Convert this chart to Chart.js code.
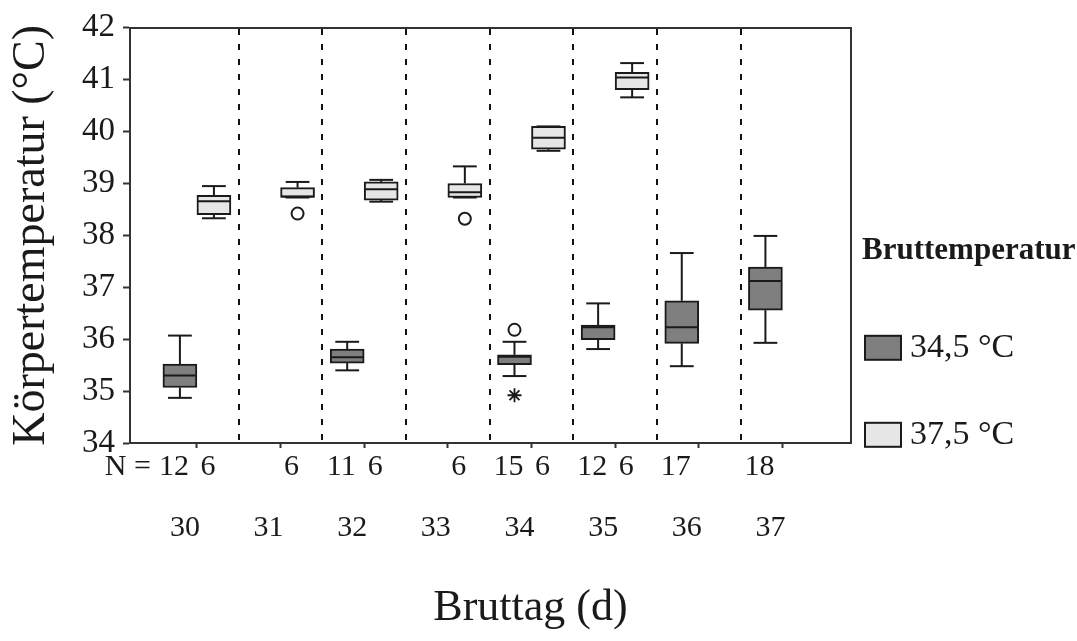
<!DOCTYPE html>
<html>
<head>
<meta charset="utf-8">
<title>Körpertemperatur nach Bruttag</title>
<script src="https://cdn.jsdelivr.net/npm/chart.js@4/dist/chart.umd.min.js"></script>
<style>
  html, body { margin: 0; padding: 0; background: #ffffff; }
  #wrap { width: 1077px; height: 641px; position: relative; }
</style>
</head>
<body>
<div id="wrap"><canvas id="chart"></canvas></div>
<script>
// Bruttag (d)
const days = [30, 31, 32, 33, 34, 35, 36, 37];

// Bruttemperatur 34,5 °C: whisker ends, quartiles, median, sample size, outliers
const low345  = [34.87, null, 35.40, null, 35.29, 35.81, 35.48, 35.93];
const q1_345  = [35.07, null, 35.54, null, 35.51, 35.99, 35.92, 36.56];
const med345  = [35.30, null, 35.65, null, 35.66, 36.23, 36.23, 37.12];
const q3_345  = [35.52, null, 35.81, null, 35.70, 36.27, 36.74, 37.39];
const high345 = [36.07, null, 35.95, null, 35.95, 36.69, 37.66, 37.99];
const n345    = [12, null, 11, null, 15, 12, 17, 18];
const out345  = [[], [], [], [], [36.18], [], [], []];
const ext345  = [[], [], [], [], [34.92], [], [], []];

// Bruttemperatur 37,5 °C
const low375  = [38.33, 38.73, 38.65, 38.73, 39.63, 40.66, null, null];
const q1_375  = [38.40, 38.73, 38.68, 38.73, 39.66, 40.81, null, null];
const med375  = [38.66, 38.75, 38.89, 38.83, 39.88, 41.04, null, null];
const q3_375  = [38.77, 38.92, 39.03, 39.00, 40.10, 41.14, null, null];
const high375 = [38.95, 39.03, 39.07, 39.33, 40.10, 41.32, null, null];
const n375    = [6, 6, 6, 6, 6, 6, null, null];
const out375  = [[], [38.42], [], [38.32], [], [], [], []];
const ext375  = [[], [], [], [], [], [], [], []];

const yTicks = [34, 35, 36, 37, 38, 39, 40, 41, 42];
const groupLabels = ['34,5 °C', '37,5 °C'];
const legendTitle = 'Bruttemperatur';

const SERIF = "'Liberation Serif', 'Times New Roman', serif";
const INK = '#1a1a1a';
const AXIS = '#333333';
const FILL = ['#7f7f7f', '#e6e6e6'];

const groups = [
  { low: low345, q1: q1_345, med: med345, q3: q3_345, high: high345, n: n345, out: out345, ext: ext345 },
  { low: low375, q1: q1_375, med: med375, q3: q3_375, high: high375, n: n375, out: out375, ext: ext375 }
];

// boxes are floating bars spanning the interquartile range
function boxData(g) {
  return days.map((d, i) => (g.q1[i] == null ? null : [g.q1[i], g.q3[i]]));
}

// whiskers, medians and outliers, placed on each box through the scales
const whiskerPlugin = {
  id: 'whiskers',
  afterDatasetsDraw(chart) {
    const ctx = chart.ctx;
    const ys = chart.scales.y;
    const line = (x1, y1, x2, y2) => { ctx.beginPath(); ctx.moveTo(x1, y1); ctx.lineTo(x2, y2); ctx.stroke(); };
    groups.forEach((g, di) => {
      const meta = chart.getDatasetMeta(di);
      meta.data.forEach((bar, i) => {
        if (g.med[i] == null) return;
        const cx = bar.x, w = bar.width, cap = w * 0.7;
        const pLow = ys.getPixelForValue(g.low[i]);
        const pQ1 = ys.getPixelForValue(g.q1[i]);
        const pMed = ys.getPixelForValue(g.med[i]);
        const pQ3 = ys.getPixelForValue(g.q3[i]);
        const pHigh = ys.getPixelForValue(g.high[i]);
        ctx.save();
        ctx.strokeStyle = INK;
        ctx.lineWidth = 2;
        ctx.lineCap = 'butt';
        line(cx, pQ3, cx, pHigh);
        line(cx - cap / 2, pHigh, cx + cap / 2, pHigh);
        line(cx, pQ1, cx, pLow);
        line(cx - cap / 2, pLow, cx + cap / 2, pLow);
        line(cx - w / 2 + 1, pMed, cx + w / 2 - 1, pMed);
        ctx.fillStyle = '#ffffff';
        g.out[i].forEach(v => {
          Chart.helpers.drawPoint(ctx, { pointStyle: 'circle', radius: 6, borderWidth: 2, rotation: 0 }, cx, ys.getPixelForValue(v));
        });
        ctx.lineWidth = 1.8;
        g.ext[i].forEach(v => {
          Chart.helpers.drawPoint(ctx, { pointStyle: 'star', radius: 7, borderWidth: 1.8, rotation: 0 }, cx, ys.getPixelForValue(v));
        });
        ctx.restore();
      });
    });
  },
  afterDraw(chart) {
    const ctx = chart.ctx;
    const area = chart.chartArea;
    const xs = chart.scales.x;
    ctx.save();
    ctx.fillStyle = INK;
    ctx.font = '30px ' + SERIF;
    ctx.textBaseline = 'middle';
    ctx.textAlign = 'center';
    // sample sizes under each box
    const rowY = xs.top + 24;
    let firstLeft = null;
    groups.forEach((g, di) => {
      const meta = chart.getDatasetMeta(di);
      meta.data.forEach((bar, i) => {
        if (g.n[i] == null) return;
        const txt = String(g.n[i]);
        const x = bar.x - 6;
        ctx.fillText(txt, x, rowY);
        const left = x - ctx.measureText(txt).width / 2;
        if (firstLeft === null || left < firstLeft) firstLeft = left;
      });
    });
    ctx.textAlign = 'right';
    ctx.fillText('N =', firstLeft - 8, rowY);

    // legend
    const lx = area.right + 11;
    ctx.textAlign = 'left';
    ctx.font = 'bold 31px ' + SERIF;
    ctx.fillText(legendTitle, lx, area.top + 223);
    ctx.font = '34px ' + SERIF;
    groupLabels.forEach((lab, k) => {
      const sy = area.top + 308 + k * 87;
      ctx.fillStyle = FILL[k];
      ctx.fillRect(lx + 3, sy, 36, 24);
      ctx.strokeStyle = INK;
      ctx.lineWidth = 2;
      ctx.strokeRect(lx + 3, sy, 36, 24);
      ctx.fillStyle = INK;
      ctx.fillText(lab, lx + 48, sy + 12);
    });
    ctx.restore();
  }
};

const chart = new Chart(document.getElementById('chart'), {
  type: 'bar',
  data: {
    labels: days,
    datasets: groupLabels.map((lab, k) => ({
      label: lab,
      data: boxData(groups[k]),
      backgroundColor: FILL[k],
      borderColor: INK,
      borderWidth: 2,
      borderSkipped: false,
      barThickness: 34
    }))
  },
  options: {
    responsive: true,
    maintainAspectRatio: false,
    animation: false,
    events: [],
    layout: { padding: { left: 0, top: 25, right: 16, bottom: 0 } },
    plugins: {
      legend: { display: false },
      tooltip: { enabled: false },
      title: {
        display: true,
        position: 'bottom',
        text: 'Bruttag (d)',
        color: INK,
        font: { family: SERIF, size: 44, weight: 'normal' },
        padding: { top: 0, bottom: 6 }
      }
    },
    scales: {
      x: {
        type: 'linear',
        min: 29.2,
        max: 37.82,
        offset: false,
        afterBuildTicks: s => { s.ticks = days.map(d => ({ value: d })); },
        afterFit: s => { s.height = 139.2; },
        ticks: {
          callback: v => String(v),
          color: INK,
          font: { family: SERIF, size: 30 },
          padding: 62,
          labelOffset: -12,
          autoSkip: false,
          maxRotation: 0,
          minRotation: 0
        },
        grid: { offset: false, drawOnChartArea: false, drawTicks: true, tickLength: 5, tickWidth: 2, tickColor: AXIS },
        border: { display: true, color: AXIS, width: 2 }
      },
      // day boundaries as dashed lines, plus the top frame line
      x2: {
        type: 'linear',
        position: 'top',
        min: 29.2,
        max: 37.82,
        offset: false,
        afterBuildTicks: s => { s.ticks = days.slice(0, -1).map(d => ({ value: d + 0.5 })); },
        afterFit: s => { s.height = 0; },
        ticks: { display: false },
        grid: { offset: false, drawOnChartArea: true, drawTicks: false, color: '#111111', lineWidth: 2 },
        border: { display: true, color: AXIS, width: 2, dash: [6, 9] }
      },
      y: {
        type: 'linear',
        min: 34,
        max: 42,
        afterBuildTicks: s => { s.ticks = yTicks.map(v => ({ value: v })); },
        afterFit: s => { s.width = 130; },
        ticks: {
          callback: v => String(v),
          color: INK,
          font: { family: SERIF, size: 33 },
          padding: 8
        },
        grid: { drawOnChartArea: false, drawTicks: true, tickLength: 7, tickWidth: 2, tickColor: AXIS },
        border: { display: true, color: AXIS, width: 2 },
        title: {
          display: true,
          text: 'Körpertemperatur (°C)',
          color: INK,
          font: { family: SERIF, size: 46, weight: 'normal' },
          padding: { top: 4, bottom: 0 }
        }
      },
      // right frame line; its width reserves room for the legend
      y2: {
        type: 'linear',
        position: 'right',
        display: true,
        min: 34,
        max: 42,
        afterFit: s => { s.width = 210; },
        ticks: { display: false },
        grid: { drawOnChartArea: false, drawTicks: false },
        border: { display: true, color: AXIS, width: 2 }
      }
    }
  },
  plugins: [whiskerPlugin]
});
</script>
</body>
</html>
